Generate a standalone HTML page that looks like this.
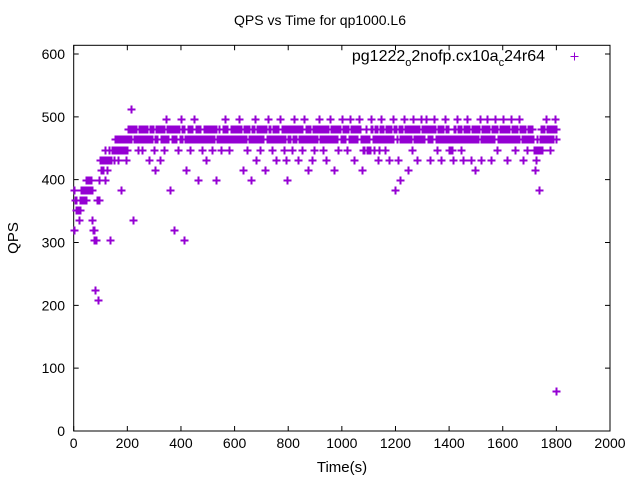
<!DOCTYPE html>
<html><head><meta charset="utf-8"><style>
body{margin:0;background:#fff}
svg{display:block;font-family:"Liberation Sans",Arial,sans-serif}
</style></head><body>
<svg id="chart" width="640" height="480" viewBox="0 0 640 480">
<text x="320" y="25" font-size="14" text-anchor="middle">QPS vs Time for qp1000.L6</text>
<text x="18" y="238" font-size="15" text-anchor="middle" transform="rotate(-90 18 238)">QPS</text>
<text x="342" y="472" font-size="15" text-anchor="middle">Time(s)</text>
<g id="axes"></g>
<g id="points"></g>
<g>
<text x="545" y="61" font-size="16" text-anchor="end">pg1222<tspan font-size="11" dy="5">o</tspan><tspan dy="-5">2nofp.cx10a</tspan><tspan font-size="11" dy="5">c</tspan><tspan dy="-5">24r64</tspan></text>
<path d="M570.5 56.5h8M574.5 52.5v8" stroke="#9400d3" stroke-width="1"/>
</g>
</svg>
<script>
const xTicks=[0,200,400,600,800,1000,1200,1400,1600,1800,2000];
const yTicks=[0,100,200,300,400,500,600];
const extraTimes=[0,0,1800];
const extraQps=[384,320,64];
const qps=[
368,352,352,336,352,368,368,384,368,384,400,384,400,336,320,224,304,208,368,416,
416,432,400,432,416,432,304,432,448,432,448,464,432,448,384,448,464,448,432,464,
464,480,512,336,464,480,464,448,480,464,448,480,464,480,464,432,480,464,480,448,
416,464,480,432,464,480,448,464,496,464,480,384,464,480,320,464,480,448,464,496,
480,304,464,416,480,464,448,480,464,496,480,464,400,480,464,448,480,464,432,480,
464,480,448,464,480,400,464,480,464,448,480,464,496,480,464,448,480,464,480,464,
480,464,496,480,464,416,480,464,448,480,464,400,480,464,496,432,480,464,448,480,
464,480,416,464,496,480,464,448,480,464,432,480,464,496,480,464,448,432,400,480,
464,480,448,496,464,480,432,464,480,448,464,496,480,464,416,480,464,432,448,480,
464,480,496,464,480,448,464,432,480,464,496,480,464,416,480,464,448,480,464,496,
480,464,480,448,464,496,480,464,432,480,464,480,496,464,416,448,464,480,448,464,
448,496,464,448,480,464,432,448,496,480,464,448,480,464,432,480,464,496,480,384,
464,432,400,480,464,496,480,464,416,480,464,448,496,480,464,432,480,464,496,480,
464,480,496,464,480,432,464,480,496,464,448,480,464,432,480,464,496,480,464,448,
448,464,432,480,464,496,480,464,448,432,480,464,496,480,464,432,480,464,416,480,
464,480,496,432,464,480,464,496,480,464,432,480,464,496,480,448,464,480,464,496,
480,464,432,480,464,496,480,464,448,480,464,496,480,464,432,480,464,448,480,464,
480,464,448,416,432,448,384,464,448,480,464,496,480,464,448,480,464,480,496,464
];
const qps2=[
384,368,352,352,368,384,384,368,384,400,384,384,400,384,320,304,304,368,400,432,
432,416,432,448,432,432,448,432,448,448,464,448,448,464,448,464,448,464,464,448,
480,464,464,480,480,464,480,464,464,480,480,464,480,464,480,464,464,480,464,480,
464,480,464,480,480,464,464,480,464,480,464,480,480,464,464,480,464,480,480,464,
464,480,480,464,464,480,480,464,480,464,464,480,480,464,480,464,464,480,480,464,
480,464,464,480,464,480,480,464,480,464,464,480,480,464,480,464,464,480,464,480,
464,480,480,464,480,464,464,480,464,480,480,464,464,480,480,464,464,480,480,464,
480,464,480,480,464,464,480,464,464,480,480,464,480,464,464,480,480,464,480,464,
480,464,480,464,480,464,480,480,464,464,480,464,464,480,480,464,480,464,480,464,
480,464,480,480,464,464,480,480,464,480,464,464,480,480,464,480,464,480,480,464,
464,480,464,480,480,464,464,480,480,464,480,464,480,480,464,464,448,464,464,448,
464,480,480,464,464,480,480,464,480,464,480,464,464,480,480,464,480,464,464,480,
480,464,480,464,480,464,464,480,480,464,480,464,480,464,480,480,464,480,464,464,
480,464,480,480,464,464,480,464,480,480,464,464,480,480,464,480,464,464,480,480,
464,448,448,464,480,464,464,480,480,464,464,480,480,464,480,464,464,480,480,464,
480,464,480,464,480,464,480,480,464,480,464,464,480,464,480,480,464,464,480,480,
464,480,480,464,480,464,464,480,480,464,480,464,464,480,480,464,480,464,464,480,
464,480,464,448,448,464,448,448,480,464,480,464,464,480,480,464,480,464,480,480
];
const timeStep=5;
const X0=73.7,X1=610,Y0=431,Y1=54;
function sx(v){return X0+(v-0)/(2000-0)*(X1-X0);}
function sy(v){return Y0-(v-0)/(600-0)*(Y0-Y1);}
const NS='http://www.w3.org/2000/svg';
const ax=document.getElementById('axes');
const frame=document.createElementNS(NS,'rect');
frame.setAttribute('x',X0);frame.setAttribute('y',45.3);
frame.setAttribute('width',X1-X0);frame.setAttribute('height',Y0-45.3);
frame.setAttribute('fill','none');frame.setAttribute('stroke','#000');


ax.appendChild(frame);
xTicks.forEach(t=>{
  const x=sx(t);
  const p=document.createElementNS(NS,'path');
  p.setAttribute('d',`M${x} ${Y0}v-5M${x} 45.3v5`);
  p.setAttribute('stroke','#000');
  
  
  ax.appendChild(p);
  const tx=document.createElementNS(NS,'text');
  tx.setAttribute('x',x);tx.setAttribute('y',448);
  tx.setAttribute('font-size','14');tx.setAttribute('text-anchor','middle');
  tx.textContent=t;
  
  
  ax.appendChild(tx);
});
yTicks.forEach(t=>{
  const y=sy(t);
  const p=document.createElementNS(NS,'path');
  p.setAttribute('d',`M${X0} ${y}h5M${X1} ${y}h-5`);
  p.setAttribute('stroke','#000');
  
  
  ax.appendChild(p);
  const tx=document.createElementNS(NS,'text');
  tx.setAttribute('x',65);tx.setAttribute('y',y+5);
  tx.setAttribute('font-size','14');tx.setAttribute('text-anchor','end');
  tx.textContent=t;
  
  
  ax.appendChild(tx);
});
const pg=document.getElementById('points');
let d='';
function add(t,v){const x=Math.round(sx(t))+0.5,y=Math.round(sy(v))+0.5;d+=`M${x-4} ${y}h8M${x} ${y-4}v8`;}
qps.forEach((v,i)=>add((i+1)*timeStep,v));
qps2.forEach((v,i)=>add((i+0.5)*timeStep,v));
extraTimes.forEach((t,i)=>add(t,extraQps[i]));
const path=document.createElementNS(NS,'path');
path.setAttribute('d',d);
path.setAttribute('stroke','#9400d3');
path.setAttribute('stroke-width','1.6');
path.setAttribute('shape-rendering','crispEdges');
path.setAttribute('fill','none');


pg.appendChild(path);
</script>
</body></html>
